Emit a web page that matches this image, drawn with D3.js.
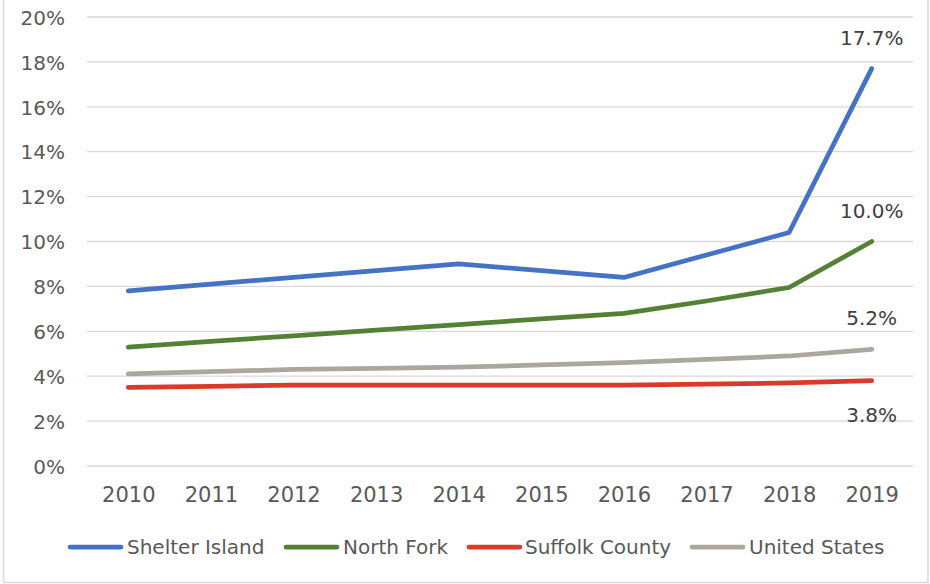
<!DOCTYPE html>
<html>
<head>
<meta charset="utf-8">
<script src="https://cdn.jsdelivr.net/npm/d3@7"></script>
<style>
  html, body { margin: 0; padding: 0; background: #fff; }
  svg { display: block; font-family: "DejaVu Sans", sans-serif; }
</style>
</head>
<body>
<svg id="chart" width="930" height="584"></svg>
<script>
// Rates by year for each area (percent)
const years = ["2010","2011","2012","2013","2014","2015","2016","2017","2018","2019"];
const shelterIsland = [7.8, 8.1, 8.4, 8.7, 9.0, 8.7, 8.4, 9.4, 10.4, 17.7];
const northFork     = [5.3, 5.55, 5.8, 6.05, 6.3, 6.55, 6.8, 7.35, 7.95, 10.0];
const suffolkCounty = [3.5, 3.55, 3.6, 3.6, 3.6, 3.6, 3.6, 3.65, 3.7, 3.8];
const unitedStates  = [4.1, 4.2, 4.3, 4.35, 4.4, 4.5, 4.6, 4.75, 4.9, 5.2];
const yTicks = [0, 2, 4, 6, 8, 10, 12, 14, 16, 18, 20];

const series = [
  { name: "Shelter Island", values: shelterIsland, color: "#4472C4" },
  { name: "North Fork",     values: northFork,     color: "#548235" },
  { name: "Suffolk County", values: suffolkCounty, color: "#D93A2B" },
  { name: "United States",  values: unitedStates,  color: "#ABA79F" }
];

const svg = d3.select("#chart");
const plot = { left: 87, right: 913, top: 17, bottom: 466 };

// outer frame
svg.append("rect")
  .attr("x", 3.5).attr("y", -2).attr("width", 924.5).attr("height", 584.5)
  .attr("fill", "none").attr("stroke", "#D9D9D9").attr("stroke-width", 1.5);

const x = d3.scalePoint().domain(years).range([plot.left, plot.right]).padding(0.5);
const y = d3.scaleLinear().domain([0, 20]).range([plot.bottom, plot.top]);

// horizontal gridlines
svg.append("g").selectAll("line").data(yTicks).join("line")
  .attr("x1", plot.left).attr("x2", plot.right)
  .attr("y1", d => y(d)).attr("y2", d => y(d))
  .attr("stroke", "#D9D9D9").attr("stroke-width", 1.3);

// y axis labels
const yAxis = svg.append("g").attr("transform", `translate(${plot.left - 22},0)`)
  .call(d3.axisLeft(y).tickValues(yTicks).tickFormat(d => d + "%").tickSize(0).tickPadding(0));
yAxis.select(".domain").remove();
yAxis.attr("font-size", null).attr("font-family", null);
yAxis.selectAll("text")
  .style("font-size", "20px").style("font-family", "'DejaVu Sans', sans-serif")
  .attr("fill", "#595959").attr("dy", "0.36em");

// x axis labels
const xAxis = svg.append("g").attr("transform", `translate(0,${plot.bottom})`)
  .call(d3.axisBottom(x).tickSize(0).tickPadding(0));
xAxis.select(".domain").remove();
xAxis.attr("font-size", null).attr("font-family", null);
xAxis.selectAll("text")
  .style("font-size", "21px").style("font-family", "'DejaVu Sans', sans-serif")
  .attr("fill", "#595959").attr("dy", 0).attr("y", 36);

// series lines
const line = d3.line().x((d, i) => x(years[i])).y(d => y(d));
svg.append("g").selectAll("path").data(series).join("path")
  .attr("d", s => line(s.values))
  .attr("fill", "none").attr("stroke", s => s.color)
  .attr("stroke-width", 4.75).attr("stroke-linecap", "round").attr("stroke-linejoin", "round");

// end-of-series value labels
const last = years.length - 1;
const labelOffsets = { "Shelter Island": -24, "North Fork": -24, "Suffolk County": 41, "United States": -24 };
svg.append("g").selectAll("text").data(series).join("text")
  .attr("x", x(years[last]))
  .attr("y", s => y(s.values[last]) + labelOffsets[s.name])
  .attr("text-anchor", "middle")
  .style("font-size", "20px").attr("fill", "#404040")
  .text(s => s.values[last].toFixed(1) + "%");

// legend
const legendItems = [
  { x: 68, tx: 127 }, { x: 284, tx: 343 }, { x: 467, tx: 525 }, { x: 690, tx: 749 }
];
const lg = svg.append("g");
series.forEach((s, i) => {
  const p = legendItems[i];
  lg.append("line").attr("x1", p.x + 2).attr("x2", p.x + 53)
    .attr("y1", 547).attr("y2", 547)
    .attr("stroke", s.color).attr("stroke-width", 4.75).attr("stroke-linecap", "round");
  lg.append("text").attr("x", p.tx).attr("y", 554)
    .style("font-size", "20px").attr("fill", "#595959").text(s.name);
});
</script>
</body>
</html>
